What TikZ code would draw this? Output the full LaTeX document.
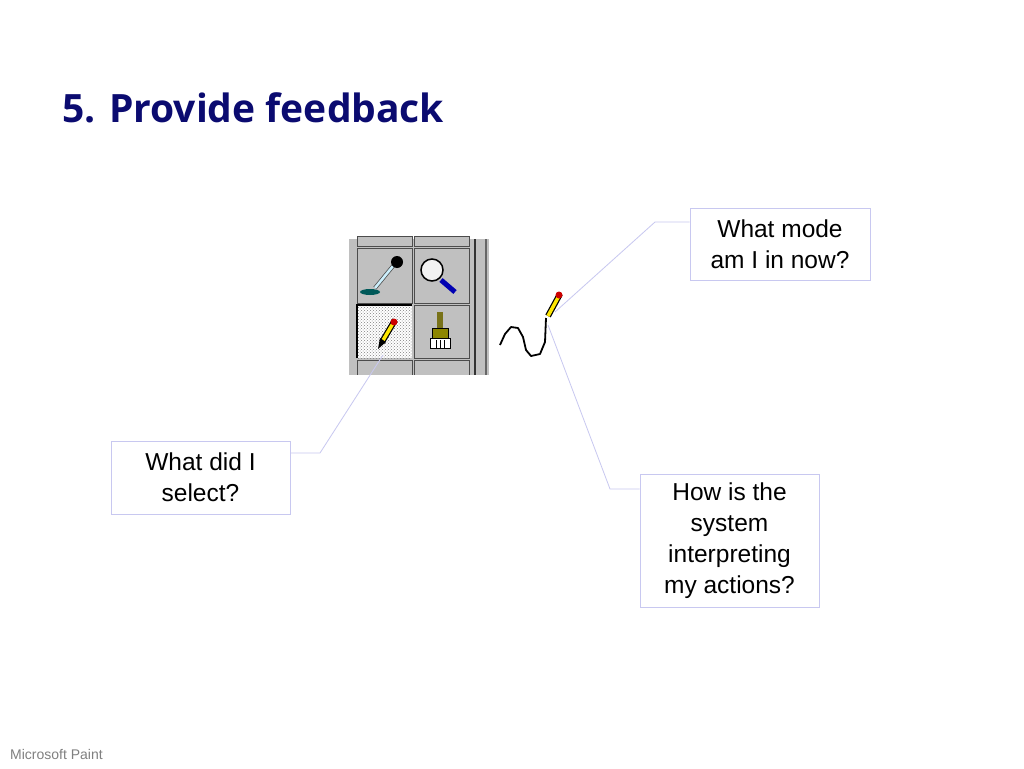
\documentclass[tikz,border=0pt]{standalone}
\usepackage{fontspec}
\usetikzlibrary{patterns}
\setmainfont{Liberation Sans}
\newfontfamily\titlefont{Open Sans}
\begin{document}
\begin{tikzpicture}[x=1pt,y=-1pt,
  callout/.style={draw=lav,line width=1pt,fill=white,align=center,font=\fontsize{24.5}{31}\selectfont,inner sep=0pt},
  lead/.style={draw=lav,line width=0.8pt},
  btn/.style={fill=btngray,draw=black!70,line width=1pt}]
\definecolor{lav}{HTML}{C8C8F0}
\definecolor{navy}{HTML}{0B0B70}
\definecolor{btngray}{HTML}{C0C0C0}
\useasboundingbox[fill=white] (0,0) rectangle (1024,768);
\node[anchor=base west,text=navy,font=\titlefont\bfseries\fontsize{39}{44}\selectfont,inner sep=0pt] (title) at (62,122) {5. Provide feedback};
% toolbar
\fill[btngray] (349,239) rectangle (489,375);
\draw[btn] (357,236) rectangle (412,246);
\draw[btn] (414,236) rectangle (469,246);
\draw[btn] (357,248) rectangle (412,303);
\draw[btn] (414,248) rectangle (469,303);
\fill[white] (357,305) rectangle (412,358);
\fill[pattern=crosshatch dots,pattern color=gray] (357,305) rectangle (412,358);
\draw[black,line width=1.5pt] (357,358) -- (357,305) -- (412,305);
\draw[btn] (414,305) rectangle (469,358);
\draw[btn] (357,360) rectangle (412,378);
\draw[btn] (414,360) rectangle (469,378);
\fill[white] (349,375) rectangle (490,380);
\draw[black!80,line width=2pt] (475,239) -- (475,375);
\draw[black!60,line width=1.5pt] (486,239) -- (486,375);
% eyedropper
\fill[teal!70!black] (370,292) ellipse (10 and 3);
\draw[line width=4pt,black!70] (375,288) -- (393,266);
\draw[line width=2.5pt,cyan!20] (375,288) -- (393,266);
\fill[black] (397,262) circle (6);
% magnifier
\draw[black,line width=1.5pt,fill=white!90!gray] (432,270) circle (11);
\draw[blue!70!black,line width=5pt] (441,280) -- (455,292);
% pencil in button
\draw[line width=6pt,black] (382,342) -- (395,320);
\draw[line width=3.5pt,yellow!90!orange] (382,342) -- (395,320);
\fill[red!80!black] (394,322) circle (3.5);
\fill[black] (378,349) -- (380,338) -- (386,342) -- cycle;
% brush
\fill[olive!80!black] (437,312) rectangle (443,328);
\draw[black,fill=olive] (432,328) rectangle (448,338);
\draw[black,fill=white] (430,338) rectangle (450,348);
\draw[black] (436,340) -- (436,348) (440,340) -- (440,348) (444,340) -- (444,348);
% squiggle
\draw[black,line width=1.8pt,line join=round] (500,345) -- (505,334) -- (511,327) -- (518,328) -- (523,337) -- (526,350) -- (531,356) -- (540,354) -- (545,342) -- (546,318);
% pencil cursor
\draw[line width=6pt,black] (548,316) -- (560,294);
\draw[line width=3.5pt,yellow!90!orange] (548,316) -- (560,294);
\fill[red!80!black] (559,295) circle (3.5);
\coordinate (btip) at (383,355);
% callouts
\node[callout,minimum width=180pt,minimum height=72pt] (mode) at (780,244) {What mode\\am I in now?};
\node[callout,minimum width=179pt,minimum height=73pt] (sel) at (200.5,477.5) {What did I\\select?};
\node[callout,minimum width=179pt,minimum height=133pt] (sys) at (729.5,540.5) {How is the\\system\\interpreting\\my actions?};
\coordinate (m1) at (655,222);
\coordinate (s1) at (320,453);
\coordinate (y1) at (610,489);
\draw[lead] (mode.west |- m1) -- (m1) -- (555,312);
\draw[lead] (sel.east |- s1) -- (s1) -- (btip);
\draw[lead] (sys.west |- y1) -- (y1) -- (548,325);
\node[anchor=base west,text=gray,font=\fontsize{14}{16}\selectfont,inner sep=0pt] (foot) at (10,759) {Microsoft Paint};
\end{tikzpicture}
\end{document}
